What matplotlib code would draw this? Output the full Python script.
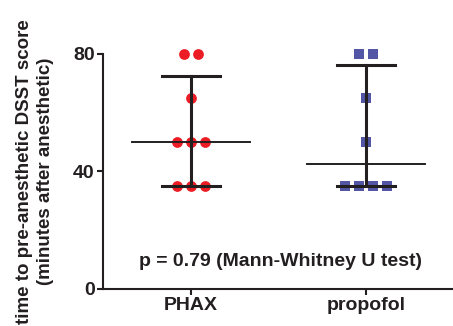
import matplotlib
matplotlib.use('Agg')
import matplotlib.pyplot as plt
import numpy as np

# ------------------------- Datos -------------------------
grupos = ['PHAX', 'propofol']
phax = [80, 80, 65, 50, 50, 50, 35, 35, 35]
propofol = [80, 80, 65, 50, 35, 35, 35, 35]
colores = ['#ec1c24', '#5356a5']
marcadores = ['o', 's']
texto_p = 'p = 0.79 (Mann-Whitney U test)'

plt.rcParams['font.family'] = ['Liberation Sans', 'DejaVu Sans']
plt.rcParams['font.weight'] = 'bold'

NEGRO = '#231f20'


def posiciones_x(valores, centro, paso=0.08):
    # reparte los puntos iguales alrededor del centro
    xs = []
    vistos = {}
    for v in valores:
        vistos[v] = vistos.get(v, 0) + 1
    usados = {}
    for v in valores:
        n = vistos[v]
        i = usados.get(v, 0)
        usados[v] = i + 1
        xs.append(centro + (i - (n - 1) / 2) * paso)
    return xs


fig = plt.figure(figsize=(4.53, 3.26), dpi=100)
ax = fig.add_axes([0.2274, 0.1135, 0.7726, 0.721])

for i, datos in enumerate([phax, propofol]):
    xs = posiciones_x(datos, i)
    ax.scatter(xs, datos, s=60, marker=marcadores[i], color=colores[i],
               linewidths=0, zorder=2, clip_on=False)
    q1, mediana, q3 = np.percentile(datos, [25, 50, 75], method='weibull')
    ax.plot([i - 0.335, i + 0.335], [mediana, mediana], color=NEGRO, lw=1.4, zorder=3)
    ax.plot([i, i], [q1, q3], color=NEGRO, lw=2.2, zorder=3)
    for q in (q1, q3):
        ax.plot([i - 0.165, i + 0.165], [q, q], color=NEGRO, lw=2.2, zorder=3)

ax.text(0.51, 9.5, texto_p, ha='center', va='center', fontsize=14, fontweight='bold', color=NEGRO)

ax.set_xlim(-0.503, 1.497)
ax.set_ylim(0, 80)
ax.set_yticks([0, 40, 80])
ax.set_xticks([0, 1])
ax.set_xticklabels(grupos)
ax.set_ylabel('time to pre-anesthetic DSST score\n(minutes after anesthetic)',
              fontsize=13.5, fontweight='bold', color=NEGRO, linespacing=1.3)
ax.yaxis.set_label_coords(-0.14, 0.5)

for lado in ['top', 'right']:
    ax.spines[lado].set_visible(False)
for lado in ['left', 'bottom']:
    ax.spines[lado].set_linewidth(1.5)
    ax.spines[lado].set_color(NEGRO)
ax.tick_params(axis='both', width=1.5, length=4, color=NEGRO, labelsize=14,
               labelcolor=NEGRO, pad=2)

fig.savefig('out.png', dpi=100)
